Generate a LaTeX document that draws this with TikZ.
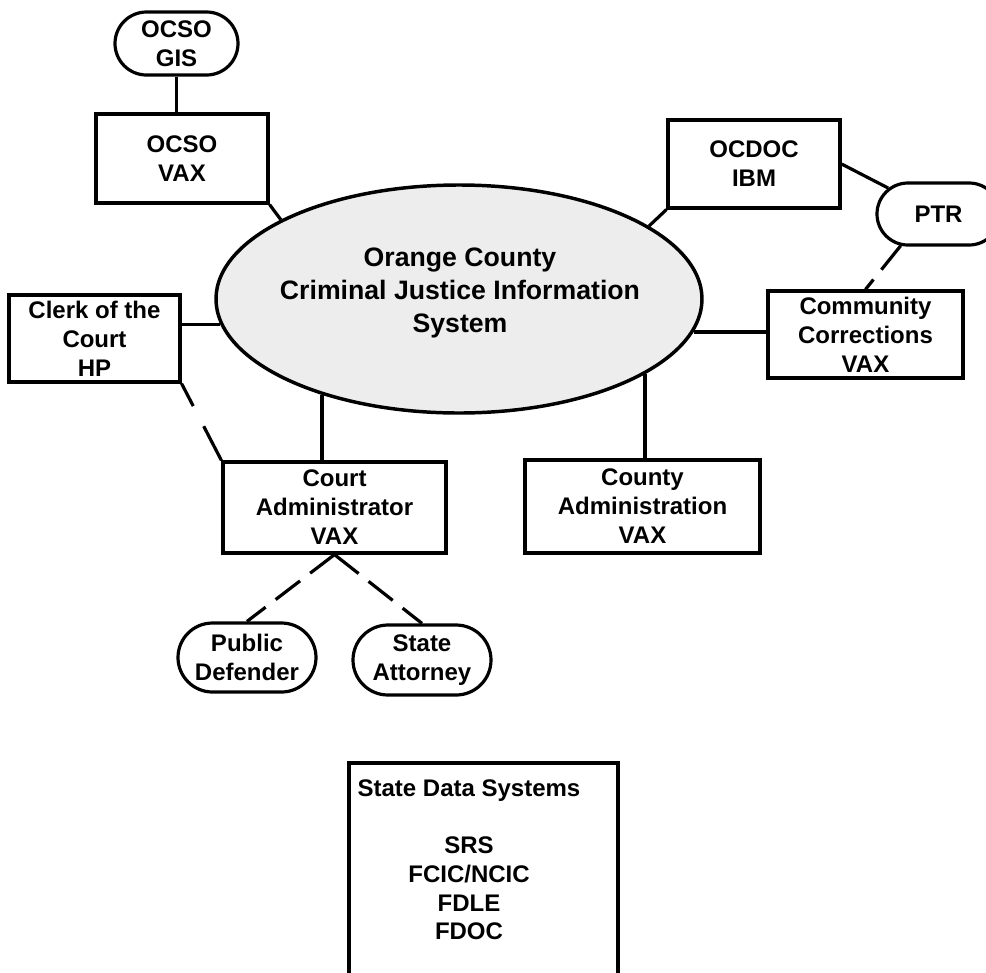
\documentclass[tikz,border=0pt]{standalone}
\usepackage{fontspec}
\setmainfont{Liberation Sans}
\usetikzlibrary{shapes.geometric,shapes.misc,calc}

\tikzset{every picture/.style={line width=0.75pt}}

\begin{document}
\begin{tikzpicture}[x=0.75pt,y=0.75pt,yscale=-1,
	box/.style={draw,line width=2.4pt,inner sep=0pt,align=center,font=\fontsize{18}{21.75}\selectfont\bfseries},
	pill/.style={box,rounded rectangle},
	link/.style={line width=2.4pt},
	dlink/.style={line width=2.4pt,dash pattern=on 23pt off 9.5pt}]
	\clip (0,0) rectangle (986,972);

	%Shape: Ellipse
	\node[ellipse,draw,line width=2.6pt,fill=black!7,minimum width=364.5pt,minimum height=171pt,inner sep=0pt] (cjis) at (459,299) {};
	% Text Node
	\node[align=center,font=\fontsize{20}{24.75}\selectfont\bfseries] (cjistext) at (460,293) {Orange County\\Criminal Justice Information\\System};

	%Shape: Rounded Rect
	\node[pill,minimum width=92.25pt,minimum height=47.25pt] (gis) at (176.5,43.5) {OCSO\\GIS};
	%Shape: Rectangle
	\node[box,minimum width=129pt,minimum height=66.75pt] (ocso) at (182,158.5) {OCSO\\VAX};
	%Shape: Rectangle
	\node[box,minimum width=128.25pt,minimum height=65.25pt] (clerk) at (94.5,338.5) {Clerk of the\\Court\\HP};
	%Shape: Rectangle
	\node[box,minimum width=129pt,minimum height=66pt] (ocdoc) at (754,164) {OCDOC\\IBM};
	%Shape: Rounded Rect
	\node[pill,minimum width=92.25pt,minimum height=46.5pt] (ptr) at (938.5,214) {PTR};
	%Shape: Rectangle
	\node[box,minimum width=146.25pt,minimum height=65.25pt] (comm) at (865.5,334.5) {Community\\Corrections\\VAX};
	%Shape: Rectangle
	\node[box,minimum width=167.25pt,minimum height=68.25pt] (court) at (334.5,507.5) {Court\\Administrator\\VAX};
	%Shape: Rectangle
	\node[box,minimum width=176.25pt,minimum height=69.75pt] (county) at (642.5,506.5) {County\\Administration\\VAX};
	%Shape: Rounded Rect
	\node[pill,minimum width=103.5pt,minimum height=51.75pt] (pd) at (247,657.5) {Public\\Defender};
	%Shape: Rounded Rect
	\node[pill,minimum width=103.5pt,minimum height=52.5pt] (sa) at (422,660) {State\\Attorney};
	%Shape: Rectangle
	\node[box,minimum width=201.75pt,minimum height=177.75pt] (sds) at (483.5,881.5) {};
	% Text Node
	\node[align=center,font=\fontsize{18}{21.5}\selectfont\bfseries] (sdslist) at (469,860) {State Data Systems\\[21.5pt]SRS\\FCIC/NCIC\\FDLE\\FDOC};

	%Straight Lines
	\draw[link] (gis.south) -- (gis.south |- ocso.north);
	\draw[link] (ocso.south east) -- (cjis.156);
	\draw[link] (clerk.east |- cjis.186) -- (cjis.186);
	\draw[link] (cjis.215) -- (cjis.215 |- court.north);
	\draw[link] (cjis.338) -- (cjis.338 |- county.north);
	\draw[link] (cjis.352) -- (cjis.352 -| comm.west);
	\draw[link] (cjis.21) -- (ocdoc.south west);
	\draw[link] (ocdoc.east) -- (ptr);
	%Dashed Lines
	\draw[dlink,dash pattern=on 19pt off 17pt on 40pt] (clerk.south east) -- (court.north west);
	\draw[dlink] (ptr.220) -- (comm.north);
	\draw[dlink] (court.south) -- (pd.north);
	\draw[dlink] (court.south) -- (sa.north);

\end{tikzpicture}
\end{document}
